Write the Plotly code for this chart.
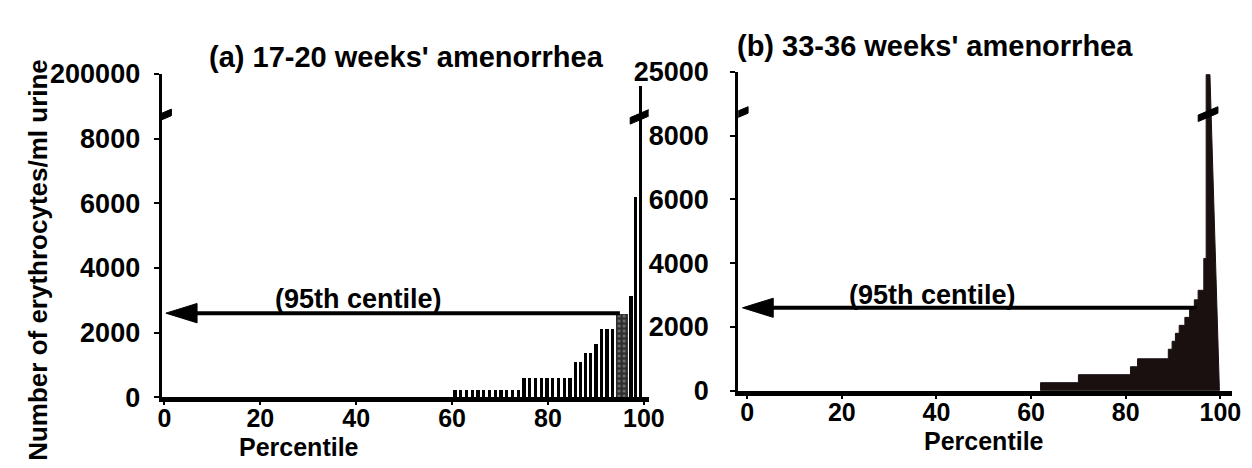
import plotly.graph_objects as go

# ---------------- data ----------------
# (a) 17-20 weeks: individual bars (percentile position, erythrocytes/ml)
a_pct = [60.5, 61.7, 62.9, 64.1, 65.3, 66.5, 67.7, 68.9, 70.1, 71.3, 72.5, 73.7,
         74.9, 76.1, 77.3, 78.5, 79.7, 80.9, 82.1, 83.3, 84.5,
         85.6, 86.7, 87.8, 88.8, 89.9, 91.1, 92.2, 93.3, 97.2, 98.1, 99.2]
a_val = [250] * 12 + [600] * 9 + [1100, 1100, 1370, 1370, 1660, 2130, 2130, 2130,
                                  3150, 6200, 150000]
a_hatch_pct = [95.3]
a_hatch_val = [2600]

# (b) 33-36 weeks: step outline (start percentile of each step, level)
b_pct = [62, 70, 81, 82.5, 89, 89.8, 90.5, 91.3, 92.5, 93.5, 94.5, 95.3, 96.5, 97.0]
b_val = [250, 500, 750, 1000, 1300, 1550, 1800, 2050, 2300, 2550, 2850, 3150, 4150, 24000]
b_top_end = 97.8
b_end = 99.8

p95_a = 2600
p95_b = 2600
p95_a_end = 95.0
p95_b_end = 95.0

y_ticks = [0, 2000, 4000, 6000, 8000]
a_top_label = "200000"
b_top_label = "25000"
a_top_val = 200000
b_top_val = 25000
x_ticks = [0, 20, 40, 60, 80, 100]

# --------------- broken axis mapping ---------------
BREAK = 8650
YTOP = 10000


def brk(v, top):
    if v <= BREAK:
        return v
    return BREAK + (v - BREAK) / (top - BREAK) * (YTOP - BREAK)


W, H = 1252, 468
FONT = "Liberation Sans, Arial, Helvetica, sans-serif"


def px(x):
    return x / W


def py(y):
    return 1 - y / H


fig = go.Figure()

fig.add_trace(go.Bar(x=a_pct, y=[brk(v, a_top_val) for v in a_val], width=0.7,
                     marker=dict(color="black", line=dict(width=0)),
                     xaxis="x", yaxis="y", showlegend=False))
fig.add_trace(go.Bar(x=a_hatch_pct, y=a_hatch_val, width=2.4,
                     marker=dict(color="#2e2e2e", line=dict(width=0),
                                 pattern=dict(shape=".", fgcolor="#bdbdbd", size=5, solidity=0.25)),
                     xaxis="x", yaxis="y", showlegend=False))

bx = [b_pct[0]]
by = [0]
prev = 0
for p, v in zip(b_pct, b_val):
    bx += [p, p]
    by += [brk(prev, b_top_val), brk(v, b_top_val)]
    prev = v
bx += [b_top_end, b_end, b_pct[0]]
by += [brk(b_val[-1], b_top_val), 0, 0]
fig.add_trace(go.Scatter(x=bx, y=by, mode="lines", fill="toself", fillcolor="#1a1010",
                         line=dict(color="#1a1010", width=1), xaxis="x2", yaxis="y2",
                         showlegend=False, hoverinfo="skip"))

tickfont = dict(family=FONT, size=25, color="black", weight="bold")

common_x = dict(tickvals=x_ticks, ticks="outside", ticklen=3, tickwidth=2,
                tickcolor="black", showline=True, linewidth=5, linecolor="black",
                showgrid=False, zeroline=False, tickfont=tickfont, fixedrange=True,
                ticklabelstandoff=-8)
common_y = dict(range=[0, YTOP + 10], tickvals=y_ticks + [YTOP], ticks="outside", ticklen=5,
                tickwidth=2, tickcolor="black", showline=True, linewidth=3, linecolor="black",
                showgrid=False, zeroline=False, tickfont=dict(tickfont, size=27),
                fixedrange=True)

fig.update_layout(
    width=W, height=H, margin=dict(l=0, r=0, t=0, b=0),
    paper_bgcolor="white", plot_bgcolor="rgba(0,0,0,0)",
    barmode="overlay", bargap=0,
    font=dict(family=FONT, color="black"),
    xaxis=dict(common_x, range=[-0.6, 101], domain=[px(152), px(647)], anchor="y"),
    yaxis=dict(common_y, domain=[py(400), py(55)], anchor="x",
               ticktext=[str(t) for t in y_ticks] + [a_top_label], ticklabelstandoff=8),
    xaxis2=dict(common_x, range=[-1.9, 102.5], domain=[px(738), px(1240)], anchor="y2"),
    yaxis2=dict(common_y, domain=[py(393), py(53)], anchor="x2",
                ticktext=[str(t) for t in y_ticks] + [b_top_label], ticklabelstandoff=16),
)

shapes = []


def arrow(xref, yref, yv, xend, tip):
    base = 6.5
    shapes.append(dict(type="line", xref=xref, yref=yref, x0=tip + base - 0.5, x1=xend,
                       y0=yv, y1=yv, line=dict(color="black", width=4)))
    shapes.append(dict(type="path", xref=xref, yref=yref,
                       path=f"M{tip},{yv} L{tip + base},{yv + 300} L{tip + base},{yv - 300} Z",
                       fillcolor="black", line=dict(color="black", width=1)))


arrow("x", "y", p95_a, p95_a_end, 0.3)
arrow("x2", "y2", p95_b, p95_b_end, -1.0)


def brkmark(xref, yref, xv, xs):
    # parallelogram defined in pixel offsets, converted to data units
    pts = [(-10, -7), (10, 2), (10, 9), (-10, 0)]
    ys = 10010 / 345.0
    path = "M" + " L".join(f"{xv + dx / xs},{BREAK + dy * ys}" for dx, dy in pts) + " Z"
    shapes.append(dict(type="path", xref=xref, yref=yref, path=path,
                       fillcolor="black", line=dict(color="black", width=1)))


brkmark("x", "y", -0.6, 4.87)
brkmark("x", "y", a_pct[-1], 4.87)
brkmark("x2", "y2", -1.9, 4.79)
brkmark("x2", "y2", 97.4, 4.79)

fig.update_layout(shapes=shapes)

af = dict(family=FONT, size=27, color="black", weight="bold")
pf = dict(family=FONT, size=25, color="black", weight="bold")
tf = dict(family=FONT, size=29, color="black", weight="bold")
ann = [
    dict(text="(a) 17-20 weeks' amenorrhea", x=px(401), y=py(37), font=tf),
    dict(text="(b) 33-36 weeks' amenorrhea", x=px(938), y=py(26), font=tf),
    dict(text="(95th centile)", x=px(352), y=py(295), font=af),
    dict(text="(95th centile)", x=px(935), y=py(291), font=af),
    dict(text="Percentile", x=px(292), y=py(453), font=pf),
    dict(text="Percentile", x=px(988), y=py(447), font=pf),
    dict(text="Number of erythrocytes/ml urine", x=px(27), y=py(254), textangle=-90,
         font=dict(pf, size=26)),
]
for a in ann:
    a.update(xref="paper", yref="paper", showarrow=False,
             xanchor="center", yanchor="middle")
fig.update_layout(annotations=ann)

fig.write_html("out.html")
